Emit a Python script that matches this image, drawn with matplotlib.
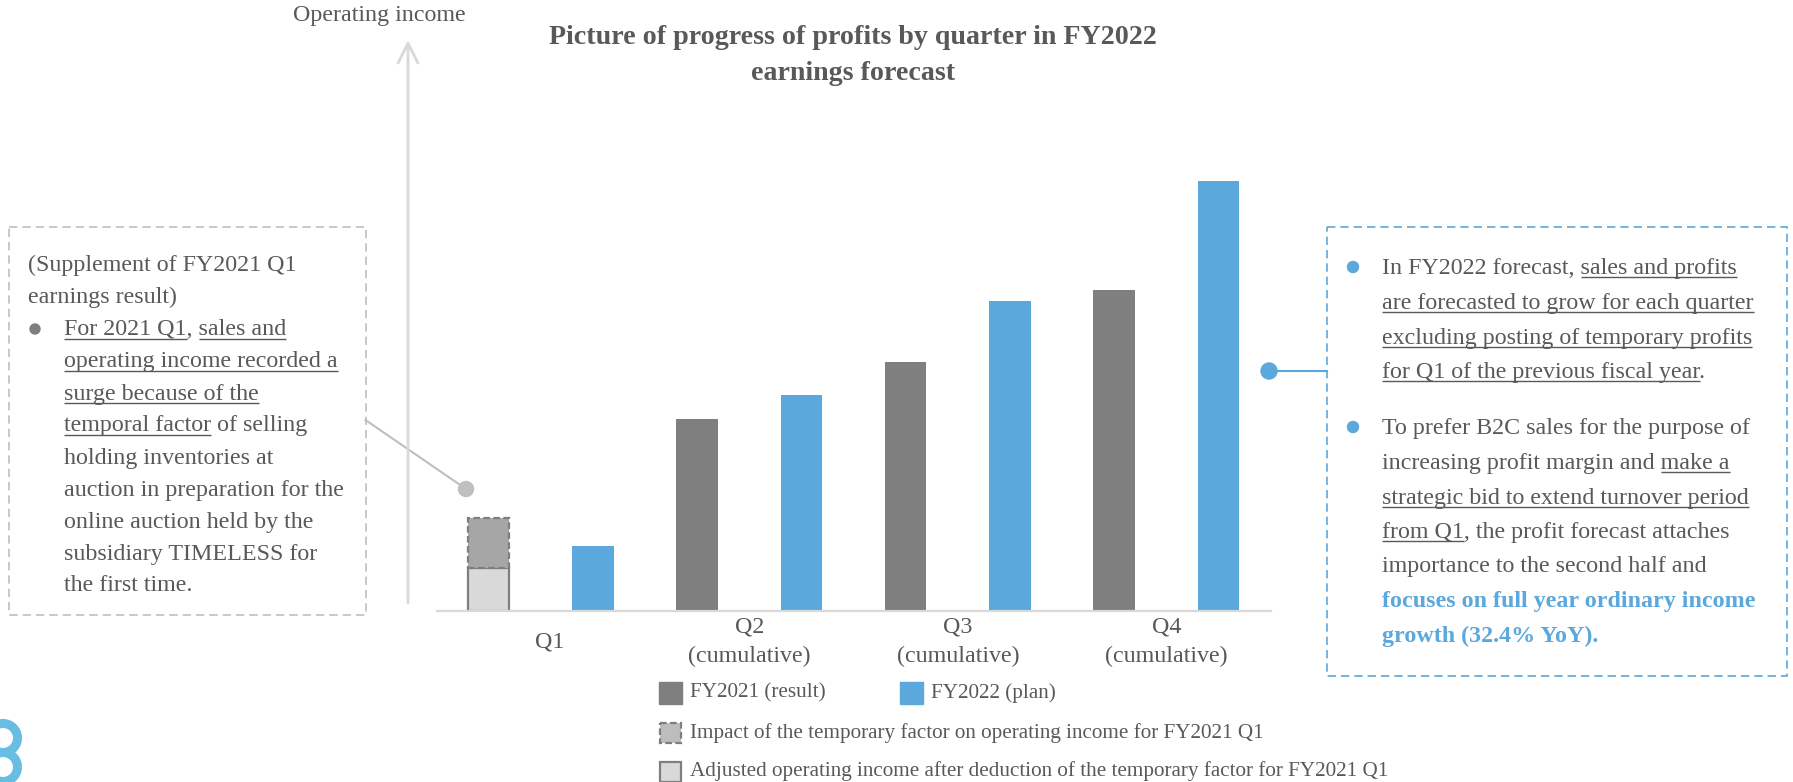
import matplotlib
matplotlib.use("Agg")
import matplotlib.pyplot as plt
import matplotlib.patches as patches
from matplotlib.font_manager import FontProperties
from matplotlib.transforms import ScaledTranslation
import numpy as np

# ---- data (relative operating income, no scale shown in the original) ----
categories = ["Q1", "Q2\n(cumulative)", "Q3\n(cumulative)", "Q4\n(cumulative)"]
fy2021_result = [93, 192, 249, 321]
fy2022_plan = [65, 216, 310, 430]
q1_adjusted = [43]      # adjusted operating income FY2021 Q1
q1_temporary = [50]     # impact of temporary factor FY2021 Q1

W, H = 1793, 782
TEXT = "#595959"
GRAY = "#7F7F7F"
BLUE = "#5BA8DC"
LIGHT = "#D9D9D9"
SERIF = "Liberation Serif"


def px(p):
    # pixel -> points at dpi 100
    return p * 72 / 100


fig = plt.figure(figsize=(W / 100, H / 100), dpi=100)
renderer = fig.canvas.get_renderer()

# bar chart axes
ax = fig.add_axes([436.5 / W, 1 - 611 / H, 834 / W, 500 / H])
x = np.arange(len(categories))
bw = 0.2
ax.bar(x[1:] - 0.25, fy2021_result[1:], width=bw, color=GRAY, zorder=2)
ax.bar(x + 0.25, fy2022_plan, width=bw, color=BLUE, zorder=2)
ax.bar(x[:1] - 0.25, q1_adjusted, width=bw, color=LIGHT, edgecolor=GRAY,
       linewidth=1.6, zorder=2)
ax.bar(x[:1] - 0.25, q1_temporary, bottom=q1_adjusted, width=bw, color="#A6A6A6",
       edgecolor=GRAY, linewidth=1.6, linestyle=(0, (3, 1.5)), zorder=2)
ax.set_xlim(-0.5, 3.5)
ax.set_ylim(0, 500)
ax.patch.set_visible(False)
for s in ["left", "top", "right"]:
    ax.spines[s].set_visible(False)
ax.spines["bottom"].set_color(LIGHT)
ax.spines["bottom"].set_linewidth(1.6)
ax.set_yticks([])
ax.set_xticks(x, labels=categories)
ax.tick_params(axis="x", length=0, pad=px(31), labelsize=px(24), labelcolor=TEXT)
for lbl in ax.get_xticklabels():
    lbl.set_fontfamily(SERIF)
    lbl.set_verticalalignment("center")
    lbl.set_linespacing(1.52)
q1_lbl = ax.get_xticklabels()[0]
q1_lbl.set_transform(q1_lbl.get_transform() + ScaledTranslation(0.09, 0, fig.dpi_scale_trans))

# overlay in pixel coordinates for annotations
ov = fig.add_axes([0, 0, 1, 1])
ov.set_xlim(0, W)
ov.set_ylim(H, 0)
ov.axis("off")


def fprop(size_px, bold=False):
    return FontProperties(family=SERIF, size=px(size_px), weight="bold" if bold else "normal")


def text_w(s, fp):
    if not s:
        return 0.0
    st = s.rstrip(" ")
    n = len(s) - len(st)
    sp = (renderer.get_text_width_height_descent("a a", fp, ismath=False)[0]
          - renderer.get_text_width_height_descent("aa", fp, ismath=False)[0])
    w = renderer.get_text_width_height_descent(st, fp, ismath=False)[0] if st else 0
    return w + n * sp


def draw_line(x0, yc, s, underline=(), color=TEXT, bold=False, size=24):
    fp = fprop(size, bold)
    yb = yc + 0.33 * size
    ov.text(x0, yb, s, fontproperties=fp, color=color, ha="left", va="baseline")
    for sub in underline:
        i = s.find(sub)
        j = i + len(sub)
        xa = x0 + text_w(s[:i], fp)
        xb = x0 + text_w(s[:j], fp)
        ov.plot([xa, xb], [yb + 3.5, yb + 3.5], color=color, lw=1.0,
                solid_capstyle="butt")


# titles
tfp = fprop(28, bold=True)
ov.text(853, 38, "Picture of progress of profits by quarter in FY2022", fontproperties=tfp,
        color=TEXT, ha="center", va="center")
ov.text(853, 74, "earnings forecast", fontproperties=tfp, color=TEXT, ha="center", va="center")
ov.text(379, 16, "Operating income", fontproperties=fprop(24), color=TEXT,
        ha="center", va="center")

# y arrow
ov.annotate("", xy=(408, 40), xytext=(408, 603),
            arrowprops=dict(arrowstyle="->,head_length=0.72,head_width=0.36", color=LIGHT,
                            lw=2.0, mutation_scale=20, shrinkA=0, shrinkB=0))

# left note box
ov.add_patch(patches.Rectangle((8.5, 227), 357, 388, fill=False, edgecolor="#BFBFBF",
                               linewidth=1.2, linestyle=(0, (5, 3))))
draw_line(28, 263.3, "(Supplement of FY2021 Q1")
draw_line(28, 295, "earnings result)")
ov.add_patch(patches.Circle((35, 329), 5, color=GRAY))
left_lines = [
    (327.3, "For 2021 Q1, sales and", ["For 2021 Q1", "sales and"]),
    (359.3, "operating income recorded a", ["operating income recorded a"]),
    (391.7, "surge because of the", ["surge because of the"]),
    (423.3, "temporal factor of selling", ["temporal factor"]),
    (455.7, "holding inventories at", []),
    (487.7, "auction in preparation for the", []),
    (520, "online auction held by the", []),
    (551.7, "subsidiary TIMELESS for", []),
    (583.3, "the first time.", []),
]
for yc, s, ul in left_lines:
    draw_line(64, yc, s, ul)

ov.plot([365.5, 466], [420, 489], color="#BFBFBF", lw=1.5)
ov.add_patch(patches.Circle((466, 489), 7.5, color="#BFBFBF"))

# right note box
ov.add_patch(patches.Rectangle((1327, 227), 460, 449, fill=False, edgecolor=BLUE,
                               linewidth=1.2, linestyle=(0, (5, 3))))
ov.plot([1269, 1327], [371, 371], color=BLUE, lw=1.5)
ov.add_patch(patches.Circle((1269, 371), 8, color=BLUE))
ov.add_patch(patches.Circle((1353, 267), 5.5, color=BLUE))
ov.add_patch(patches.Circle((1353, 427), 5.5, color=BLUE))
right_lines = [
    (266, "In FY2022 forecast, sales and profits", ["sales and profits"]),
    (300.7, "are forecasted to grow for each quarter", ["are forecasted to grow for each quarter"]),
    (335.7, "excluding posting of temporary profits", ["excluding posting of temporary profits"]),
    (370, "for Q1 of the previous fiscal year.", ["for Q1 of the previous fiscal year"]),
    (425.7, "To prefer B2C sales for the purpose of", []),
    (460.7, "increasing profit margin and make a", ["make a"]),
    (495.7, "strategic bid to extend turnover period", ["strategic bid to extend turnover period"]),
    (530, "from Q1, the profit forecast attaches", ["from Q1"]),
    (564, "importance to the second half and", []),
]
for yc, s, ul in right_lines:
    draw_line(1382, yc, s, ul)
draw_line(1382, 599, "focuses on full year ordinary income", color=BLUE, bold=True)
draw_line(1382, 634, "growth (32.4% YoY).", color=BLUE, bold=True)

# legend
lfp = fprop(21.2)
ov.add_patch(patches.Rectangle((659, 682), 23, 22, color=GRAY))
ov.text(690, 693, "FY2021 (result)", fontproperties=lfp, color=TEXT, va="center")
ov.add_patch(patches.Rectangle((900, 682), 23, 22, color=BLUE))
ov.text(931, 693, "FY2022 (plan)", fontproperties=lfp, color=TEXT, va="center")
ov.add_patch(patches.Rectangle((660, 723), 21, 20, facecolor="#BDBDBD", edgecolor=GRAY,
                               linewidth=1.6, linestyle=(0, (3, 1.5))))
ov.text(690, 733, "Impact of the temporary factor on operating income for FY2021 Q1",
        fontproperties=lfp, color=TEXT, va="center")
ov.add_patch(patches.Rectangle((660, 762), 21, 20, facecolor=LIGHT, edgecolor=GRAY,
                               linewidth=1.6))
ov.text(690, 771, "Adjusted operating income after deduction of the temporary factor for FY2021 Q1",
        fontproperties=lfp, color=TEXT, va="center")

# partial logo at bottom left (cut by the page edge)
for cy in (738, 767):
    ov.add_patch(patches.Arc((3, cy), 29, 29, theta1=0, theta2=360, color="#68BDE3", lw=6.5))

fig.savefig("out.png", dpi=100)
